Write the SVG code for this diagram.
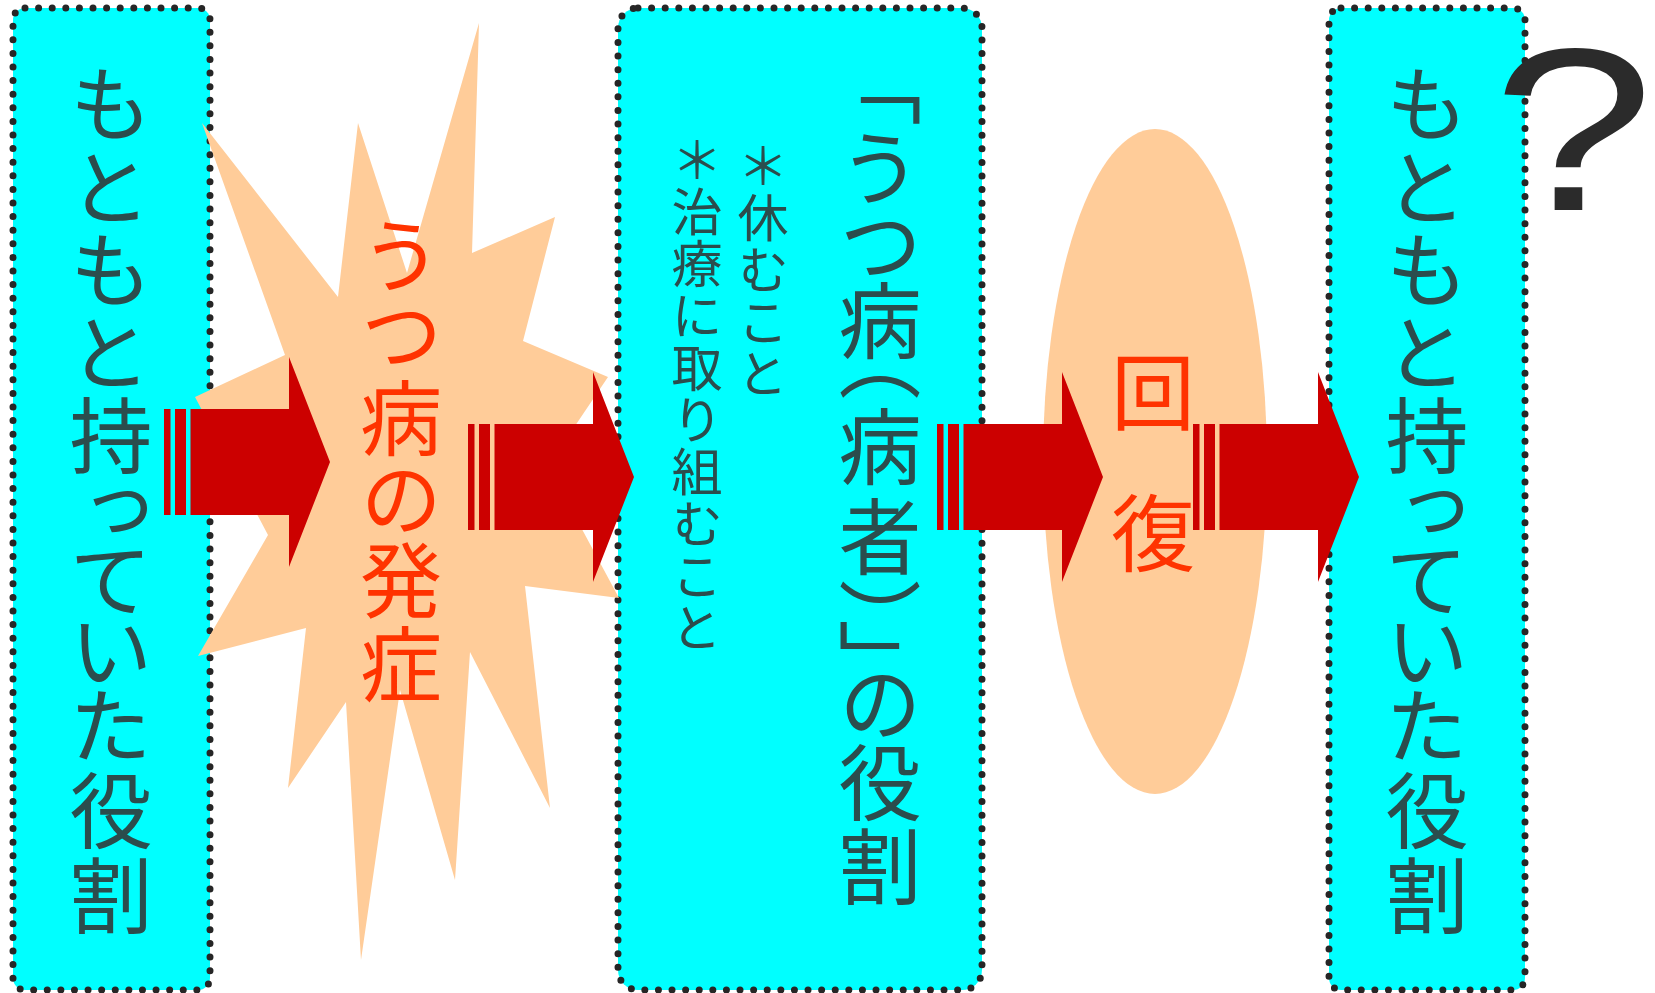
<svg xmlns="http://www.w3.org/2000/svg" xmlns:xlink="http://www.w3.org/1999/xlink" width="1655" height="993" viewBox="0 0 1655 993">
<style>
.box{fill:#00FFFF;stroke:#262626;stroke-width:7;stroke-dasharray:0 13.6;stroke-linecap:round}
.v{writing-mode:vertical-rl;font-family:"Noto Sans CJK JP","Noto Sans CJK SC",sans-serif}
.dark{fill:#2B4D4D}
.red{fill:#FF3300}
.peach{fill:#FFCC99}
.arrow{fill:#CC0000}
</style>
<defs>
<g id="arrowShape" class="arrow">
<rect x="0" y="-53" width="6.5" height="106"/>
<rect x="11" y="-53" width="11" height="106"/>
<polygon points="26.5,-53 125,-53 125,-105 166,0 125,105 125,53 26.5,53"/>
</g>
</defs>
<rect width="1655" height="993" fill="#FFFFFF"/>
<g id="box-original-role-1">
<rect class="box" x="13" y="8" width="197" height="982" rx="12"/>
<text class="v dark" font-size="83" x="111" y="62 146 227.5 310.5 393.5 468 537.5 608.5 684 768.5 853.5">もともと持っていた役割</text>
</g>
<g id="box-depression-role">
<rect class="box" x="618" y="8" width="364" height="982" rx="20"/>
<text class="v dark" font-size="83" x="880" y="43 126 202.5 278.5 318 405 494.5 578 619 662 741 825">「うつ病（病者）」の役割</text>
<text class="v dark" font-size="51" x="763" y="140 192 244 296 348">＊休むこと</text>
<text class="v dark" font-size="51" x="697" y="134.5 186.5 238.5 290.5 342.5 394.5 446.5 498.5 550.5 602.5">＊治療に取り組むこと</text>
</g>
<g id="box-original-role-2">
<rect class="box" x="1329" y="8" width="196" height="982" rx="12"/>
<text class="v dark" font-size="83" x="1427" y="62 146 227.5 310.5 393.5 468 537.5 608.5 684 768.5 853.5">もともと持っていた役割</text>
</g>
<g id="onset">
<polygon class="peach" points="202,123 338,297 358,123 407,273 479,23 472,253 555,217 523,341 608,377 548,466 619,598 525,586 550,808 470,652 455,880 400,690 361,960 346,702 288,788 306,628 198,656 268,535 195,397 285,355"/>
<text class="v red" font-size="82" x="401" y="214 293 376.5 458 538.5 622.5">うつ病の発症</text>
</g>
<g id="recovery">
<ellipse class="peach" cx="1155" cy="461.5" rx="112" ry="332.5"/>
<text class="v red" font-size="84" x="1153" y="350.5 491.5">回復</text>
</g>
<g id="connectors">
<use xlink:href="#arrowShape" transform="translate(164,462)"/>
<use xlink:href="#arrowShape" transform="translate(468,477)"/>
<use xlink:href="#arrowShape" transform="translate(937,477)"/>
<use xlink:href="#arrowShape" transform="translate(1193,477)"/>
</g>
<g id="question">
<text x="-10.7" y="0" transform="translate(1506,210) scale(1.25,1)" font-family="Liberation Sans" font-size="232" fill="#2B2B2B">?</text>
</g>
</svg>
